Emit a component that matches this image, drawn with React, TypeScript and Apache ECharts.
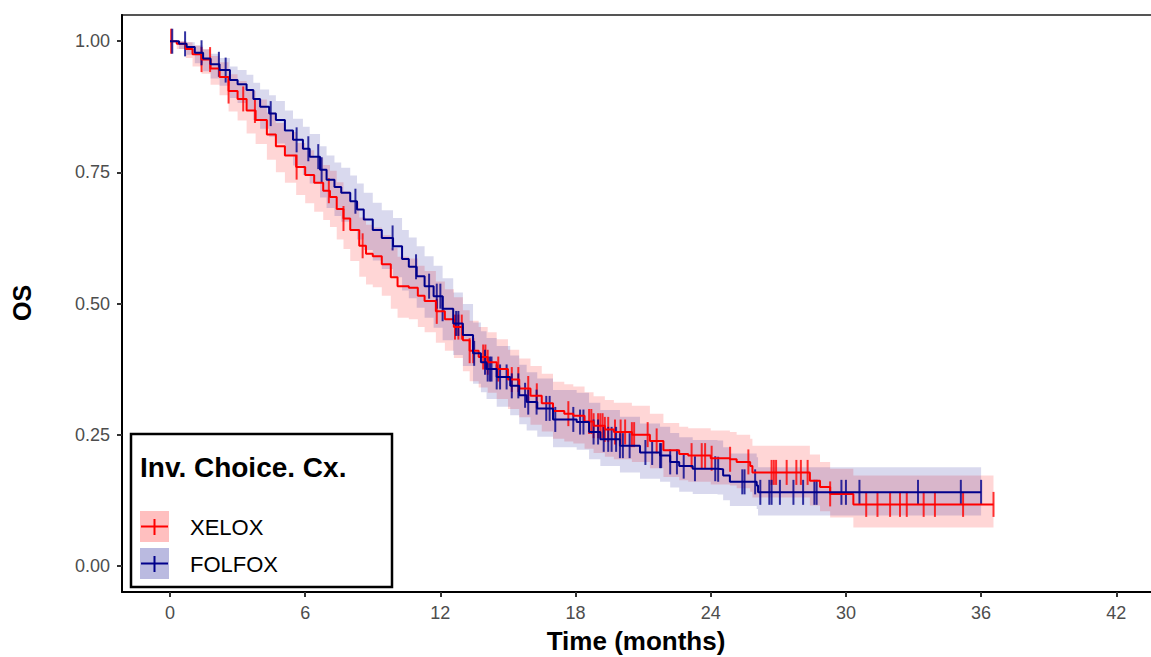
import React, { useEffect, useRef } from "react";
import * as echarts from "echarts";

const xTicks = [0, 6, 12, 18, 24, 30, 36, 42];
const yTicks = [0, 0.25, 0.5, 0.75, 1];
const groupNames = ["XELOX", "FOLFOX"];

// XELOX (red)
const xeloxTime = [0, 0.3, 0.7, 1.0, 1.4, 1.8, 2.2, 2.6, 3.0, 3.4, 3.8, 4.3, 4.7, 5.1, 5.6, 6.0, 6.4, 6.8, 7.1, 7.4, 7.7, 8.0, 8.4, 8.7, 9.0, 9.4, 9.8, 10.1, 10.6, 11.0, 11.3, 11.8, 12.2, 12.6, 13.0, 13.3, 13.7, 14.1, 14.5, 15.0, 15.5, 16.0, 16.5, 17.0, 17.5, 17.9, 18.4, 18.8, 19.3, 19.7, 20.5, 21.3, 21.9, 22.6, 23.0, 24.0, 24.85, 25.15, 25.75, 25.85, 28.4, 28.85, 29.3, 30.33];
const xeloxSurv = [1, 0.995, 0.985, 0.975, 0.965, 0.948, 0.932, 0.905, 0.89, 0.868, 0.85, 0.822, 0.8, 0.782, 0.76, 0.745, 0.73, 0.715, 0.703, 0.68, 0.662, 0.64, 0.61, 0.595, 0.59, 0.575, 0.55, 0.533, 0.53, 0.515, 0.505, 0.485, 0.47, 0.455, 0.43, 0.41, 0.398, 0.388, 0.375, 0.355, 0.338, 0.324, 0.31, 0.295, 0.29, 0.286, 0.275, 0.267, 0.26, 0.255, 0.25, 0.238, 0.22, 0.213, 0.21, 0.205, 0.203, 0.198, 0.19, 0.178, 0.162, 0.15, 0.137, 0.117];
const xeloxLower = [1, 0.985, 0.968, 0.952, 0.938, 0.917, 0.897, 0.866, 0.849, 0.824, 0.804, 0.774, 0.75, 0.73, 0.707, 0.691, 0.675, 0.659, 0.646, 0.622, 0.604, 0.581, 0.551, 0.536, 0.531, 0.515, 0.49, 0.473, 0.47, 0.455, 0.445, 0.425, 0.41, 0.396, 0.371, 0.352, 0.34, 0.33, 0.318, 0.299, 0.283, 0.269, 0.256, 0.242, 0.237, 0.233, 0.223, 0.215, 0.208, 0.203, 0.198, 0.186, 0.169, 0.163, 0.16, 0.155, 0.153, 0.148, 0.141, 0.13, 0.115, 0.104, 0.092, 0.073];
const xeloxUpper = [1, 1, 0.998, 0.992, 0.985, 0.972, 0.96, 0.937, 0.924, 0.905, 0.889, 0.864, 0.844, 0.827, 0.806, 0.792, 0.778, 0.764, 0.753, 0.731, 0.714, 0.693, 0.664, 0.65, 0.645, 0.63, 0.606, 0.589, 0.586, 0.572, 0.562, 0.542, 0.527, 0.512, 0.487, 0.467, 0.455, 0.445, 0.432, 0.412, 0.395, 0.381, 0.366, 0.351, 0.346, 0.342, 0.331, 0.323, 0.316, 0.311, 0.305, 0.29, 0.272, 0.265, 0.262, 0.258, 0.255, 0.25, 0.242, 0.229, 0.212, 0.198, 0.185, 0.172];
const xeloxEnd = 36.55;
const xeloxCensor = [0.05, 1.4, 1.78, 2.6, 3.25, 3.77, 5.62, 7.05, 7.7, 8.55, 11.84, 12.65, 12.8, 12.95, 13.3, 13.46, 13.9, 14.0, 14.1, 14.57, 15.17, 15.46, 15.9, 16.28, 17.68, 18.6, 18.7, 18.8, 19.0, 19.1, 19.2, 19.3, 19.45, 19.75, 20.0, 20.2, 20.5, 20.6, 21.2, 21.6, 23.15, 23.6, 23.75, 24.04, 24.86, 25.67, 26.7, 26.8, 26.9, 27.37, 27.8, 28.0, 28.3, 29.3, 30.9, 31.4, 31.96, 32.4, 32.7, 33.45, 33.95, 35.2, 36.55];

// FOLFOX (dark blue)
const folfoxTime = [0, 0.4, 0.74, 1.1, 1.47, 1.8, 2.2, 2.66, 3.0, 3.4, 3.7, 4.0, 4.4, 4.7, 5.1, 5.46, 5.9, 6.2, 6.66, 6.95, 7.3, 7.6, 8.0, 8.3, 8.6, 9.0, 9.4, 9.9, 10.3, 10.6, 10.95, 11.3, 11.7, 12.1, 12.57, 13.0, 13.45, 13.8, 14.05, 14.5, 15.1, 15.5, 15.83, 16.3, 17.0, 18.05, 18.6, 19.1, 19.97, 20.86, 21.75, 22.2, 22.6, 23.2, 24.3, 24.55, 24.85, 26.04, 26.1];
const folfoxSurv = [1, 0.995, 0.989, 0.978, 0.967, 0.956, 0.945, 0.926, 0.918, 0.907, 0.89, 0.875, 0.862, 0.85, 0.83, 0.812, 0.795, 0.78, 0.755, 0.736, 0.722, 0.711, 0.695, 0.679, 0.66, 0.64, 0.625, 0.609, 0.585, 0.57, 0.552, 0.533, 0.514, 0.49, 0.462, 0.44, 0.405, 0.388, 0.375, 0.36, 0.343, 0.325, 0.312, 0.3, 0.279, 0.274, 0.255, 0.241, 0.229, 0.216, 0.21, 0.198, 0.19, 0.185, 0.184, 0.172, 0.16, 0.153, 0.14];
const folfoxLower = [1, 0.985, 0.974, 0.958, 0.943, 0.929, 0.915, 0.892, 0.882, 0.869, 0.85, 0.833, 0.818, 0.805, 0.783, 0.763, 0.745, 0.729, 0.702, 0.682, 0.667, 0.656, 0.639, 0.622, 0.602, 0.582, 0.566, 0.55, 0.525, 0.51, 0.492, 0.473, 0.454, 0.43, 0.402, 0.381, 0.347, 0.331, 0.318, 0.303, 0.287, 0.27, 0.258, 0.246, 0.226, 0.221, 0.203, 0.19, 0.178, 0.166, 0.16, 0.149, 0.141, 0.137, 0.136, 0.125, 0.114, 0.108, 0.096];
const folfoxUpper = [1, 1, 0.998, 0.992, 0.984, 0.976, 0.968, 0.952, 0.945, 0.936, 0.921, 0.908, 0.897, 0.886, 0.868, 0.852, 0.837, 0.823, 0.8, 0.782, 0.769, 0.759, 0.744, 0.729, 0.711, 0.692, 0.678, 0.663, 0.64, 0.626, 0.609, 0.59, 0.572, 0.548, 0.521, 0.499, 0.464, 0.447, 0.434, 0.419, 0.401, 0.383, 0.369, 0.357, 0.335, 0.33, 0.311, 0.297, 0.284, 0.271, 0.265, 0.253, 0.245, 0.24, 0.239, 0.226, 0.214, 0.207, 0.188];
const folfoxEnd = 36.0;
const folfoxCensor = [0.1, 0.67, 1.4, 2.17, 2.47, 4.47, 5.62, 6.14, 6.58, 6.73, 8.23, 9.88, 10.92, 11.5, 11.84, 12.0, 12.1, 12.7, 12.8, 13.5, 13.98, 14.1, 14.2, 14.27, 14.5, 14.65, 14.94, 15.17, 15.46, 15.76, 15.9, 16.27, 16.7, 16.85, 17.1, 17.9, 18.2, 18.35, 18.8, 19.0, 19.25, 19.45, 19.6, 19.8, 19.97, 20.1, 20.4, 21.1, 21.4, 21.75, 21.8, 22.2, 22.5, 22.8, 23.3, 24.2, 24.33, 25.4, 25.5, 25.97, 26.2, 26.6, 26.7, 27.07, 27.67, 28.1, 28.6, 28.7, 29.8, 30.0, 30.6, 33.2, 35.1, 36.0];

const RED = "#FF0000";
const BLUE = "#00008B";
const FONT = "'Liberation Sans', Arial, sans-serif";

function stepData(times: number[], vals: number[], end: number) {
  const d = times.map((t, i) => [t, vals[i]]);
  d.push([end, vals[vals.length - 1]]);
  return d;
}

function survAt(times: number[], vals: number[], t: number) {
  let v = vals[0];
  for (let i = 0; i < times.length; i++) if (times[i] <= t) v = vals[i];
  return v;
}

function bandSeries(times: number[], lo: number[], hi: number[], end: number, color: string) {
  return {
    type: "custom",
    silent: true,
    clip: true,
    data: [[0, 0]],
    renderItem: (params: any, api: any) => {
      const pts: number[][] = [];
      const n = times.length;
      for (let i = 0; i < n; i++) {
        const tNext = i < n - 1 ? times[i + 1] : end;
        pts.push(api.coord([times[i], hi[i]]));
        pts.push(api.coord([tNext, hi[i]]));
      }
      for (let i = n - 1; i >= 0; i--) {
        const tNext = i < n - 1 ? times[i + 1] : end;
        pts.push(api.coord([tNext, lo[i]]));
        pts.push(api.coord([times[i], lo[i]]));
      }
      return { type: "polygon", shape: { points: pts }, style: { fill: color, stroke: null } };
    },
  };
}

function censorSeries(times: number[], vals: number[], cens: number[], color: string) {
  return {
    type: "scatter",
    silent: true,
    symbol: "rect",
    symbolSize: [2, 25],
    itemStyle: { color },
    data: cens.map((t) => [t, survAt(times, vals, t)]),
  };
}

export default function App() {
  const ref = useRef<HTMLDivElement>(null);
  useEffect(() => {
    const chart = echarts.init(ref.current!, null, { renderer: "svg" });
    const option: any = {
      animation: false,
      backgroundColor: "#ffffff",
      grid: { left: 122, top: 15, width: 1029, height: 577, containLabel: false },
      xAxis: {
        type: "value",
        min: -2.13,
        max: 43.54,
        axisLine: { show: true, onZero: false, lineStyle: { color: "#000", width: 2 } },
        axisTick: { show: true, length: 5, customValues: xTicks, lineStyle: { color: "#333", width: 2 } },
        axisLabel: { customValues: xTicks, color: "#4d4d4d", fontSize: 18, fontFamily: FONT, margin: 12 },
        splitLine: { show: false },
      },
      yAxis: {
        type: "value",
        min: -0.05,
        max: 1.05,
        axisLine: { show: true, onZero: false, lineStyle: { color: "#000", width: 2 } },
        axisTick: { show: true, length: 5, customValues: yTicks, lineStyle: { color: "#333", width: 2 } },
        axisLabel: {
          customValues: yTicks,
          color: "#4d4d4d",
          fontSize: 18,
          fontFamily: FONT,
          margin: 12,
          formatter: (v: number) => v.toFixed(2),
        },
        splitLine: { show: false },
      },
      series: [
        bandSeries(xeloxTime, xeloxLower, xeloxUpper, xeloxEnd, "rgba(255,0,0,0.16)"),
        bandSeries(folfoxTime, folfoxLower, folfoxUpper, folfoxEnd, "rgba(0,0,139,0.15)"),
        {
          type: "line",
          name: groupNames[0],
          step: "end",
          symbol: "none",
          lineStyle: { color: RED, width: 2 },
          data: stepData(xeloxTime, xeloxSurv, xeloxEnd),
        },
        censorSeries(xeloxTime, xeloxSurv, xeloxCensor, RED),
        {
          type: "line",
          name: groupNames[1],
          step: "end",
          symbol: "none",
          lineStyle: { color: BLUE, width: 2 },
          data: stepData(folfoxTime, folfoxSurv, folfoxEnd),
        },
        censorSeries(folfoxTime, folfoxSurv, folfoxCensor, BLUE),
      ],
      graphic: [
        { type: "line", shape: { x1: 121, y1: 15, x2: 1151, y2: 15 }, style: { stroke: "#555", lineWidth: 2 } },
        {
          type: "text",
          x: 22,
          y: 303,
          rotation: Math.PI / 2,
          style: { text: "OS", font: `bold 25px ${FONT}`, fill: "#000", textAlign: "center", textVerticalAlign: "middle" },
        },
        {
          type: "text",
          x: 636,
          y: 641,
          style: { text: "Time (months)", font: `bold 26px ${FONT}`, fill: "#000", textAlign: "center", textVerticalAlign: "middle" },
        },
        {
          type: "group",
          children: [
            { type: "rect", shape: { x: 131, y: 434, width: 261, height: 153 }, style: { fill: "#fff", stroke: "#000", lineWidth: 2.5 } },
            { type: "text", x: 140, y: 467, style: { text: "Inv. Choice. Cx.", font: `bold 28px ${FONT}`, fill: "#000", textVerticalAlign: "middle" } },
            { type: "rect", shape: { x: 140, y: 511, width: 29, height: 31 }, style: { fill: "rgba(255,0,0,0.25)" } },
            { type: "line", shape: { x1: 141, y1: 526.5, x2: 168, y2: 526.5 }, style: { stroke: RED, lineWidth: 2 } },
            { type: "line", shape: { x1: 154.5, y1: 519, x2: 154.5, y2: 535 }, style: { stroke: RED, lineWidth: 2 } },
            { type: "rect", shape: { x: 140, y: 548, width: 29, height: 31 }, style: { fill: "rgba(0,0,139,0.27)" } },
            { type: "line", shape: { x1: 141, y1: 563.5, x2: 168, y2: 563.5 }, style: { stroke: BLUE, lineWidth: 2 } },
            { type: "line", shape: { x1: 154.5, y1: 556, x2: 154.5, y2: 572 }, style: { stroke: BLUE, lineWidth: 2 } },
            { type: "text", x: 190, y: 527, style: { text: groupNames[0], font: `22px ${FONT}`, fill: "#000", textVerticalAlign: "middle" } },
            { type: "text", x: 190, y: 564, style: { text: groupNames[1], font: `22px ${FONT}`, fill: "#000", textVerticalAlign: "middle" } },
          ],
        },
      ],
    };
    chart.setOption(option);
    return () => chart.dispose();
  }, []);
  return <div ref={ref} style={{ position: "fixed", left: 0, top: 0, width: 1151, height: 657, background: "#fff" }} />;
}
